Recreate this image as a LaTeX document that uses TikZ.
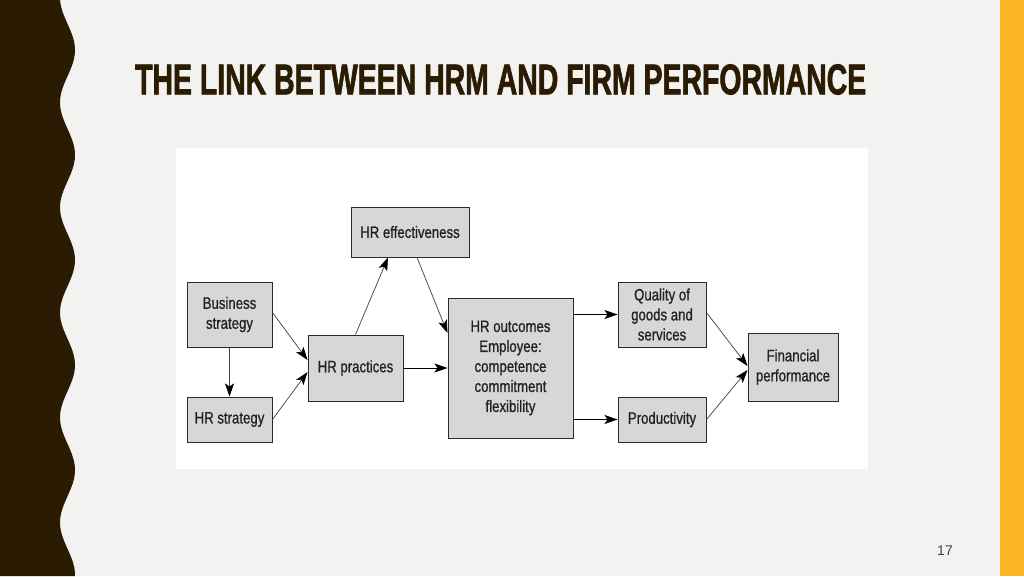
\documentclass[tikz,border=0pt]{standalone}
\usepackage{fontspec}
\usetikzlibrary{arrows.meta,calc}
\newfontfamily\titlefont[FakeBold=2]{Liberation Sans}
\newfontfamily\figfont[FakeStretch=0.8,FakeBold=0.8]{Liberation Sans}
\newfontfamily\numfont{Liberation Sans}
\definecolor{bgc}{HTML}{F2F2F0}
\definecolor{wavec}{HTML}{2B1B03}
\definecolor{orangec}{HTML}{FAB526}
\definecolor{boxfill}{HTML}{D7D7D7}
\definecolor{boxline}{HTML}{2A2A2A}
\definecolor{txtc}{HTML}{222222}
\definecolor{numc}{HTML}{2E4A5A}
\tikzset{
  hrbox/.style={draw=boxline, fill=boxfill, line width=1pt, rectangle, inner sep=0pt,
    align=center, text=txtc, font=\figfont\fontsize{16.5}{20}\selectfont},
  arr/.style={draw=black, line width=1pt, -{Stealth[length=13pt,width=9pt,inset=3pt]}},
  thinarr/.style={draw=black!75, line width=0.7pt, -{Stealth[length=13pt,width=9pt,inset=3pt,fill=black,color=black]}}
}
\begin{document}
\begin{tikzpicture}[x=1pt,y=-1pt]
\useasboundingbox (0,0) rectangle (1024,576);
\fill[bgc] (0,0) rectangle (1024,576);
\fill[white] (176,148) rectangle (868,469);
\fill[wavec] (0,0) -- plot[domain=0:576,samples=200,smooth] ({67.5-7.5*cos(3.428571*(\x+2.5))},\x) -- (0,576) -- cycle;
\fill[orangec] (1000,0) rectangle (1024,576);
\node[anchor=west, inner sep=0pt, text=wavec] (title) at (135,79.5)
  {\resizebox{731pt}{30pt}{\titlefont\bfseries THE LINK BETWEEN HRM AND FIRM PERFORMANCE}};
\node[text=numc, font=\numfont\fontsize{14}{16}\selectfont, inner sep=0pt] (num) at (945,551) {17};

\node[hrbox, minimum width=118pt, minimum height=50pt] (eff) at (410,232) {HR effectiveness};
\node[hrbox, minimum width=85pt, minimum height=65pt] (bus) at (229.5,314.5) {Business\\strategy};
\node[hrbox, minimum width=85pt, minimum height=45pt] (hrs) at (229.5,419.5) {HR strategy};
\node[hrbox, minimum width=95pt, minimum height=66pt] (prac) at (355.5,368) {HR practices};
\node[hrbox, minimum width=125pt, minimum height=140pt] (out) at (510.5,368) {HR outcomes\\Employee:\\competence\\commitment\\flexibility};
\node[hrbox, minimum width=88pt, minimum height=65pt] (qual) at (662,314.5) {Quality of\\goods and\\services};
\node[hrbox, minimum width=88pt, minimum height=45pt] (prod) at (662,419.5) {Productivity};
\node[hrbox, minimum width=90pt, minimum height=68pt] (fin) at (793,367) {Financial\\performance};

\draw[thinarr] (bus.south) -- (hrs.north);
\draw[thinarr] ([yshift=2pt]bus.east) -- ([yshift=8pt]prac.west);
\draw[thinarr] (hrs.east) -- ([yshift=-4pt]prac.west);
\draw[thinarr] (prac.north) -- ([xshift=-22pt]eff.south);
\draw[thinarr] ([xshift=7pt]eff.south) -- ([yshift=35pt]out.west);
\draw[arr] (prac.east) -- (out.west);
\draw[arr] (out.east |- qual.west) -- (qual.west);
\draw[arr] (out.east |- prod.west) -- (prod.west);
\draw[thinarr] ([yshift=2pt]qual.east) -- ([yshift=1pt]fin.west);
\draw[thinarr] (prod.east) -- ([yshift=-3pt]fin.west);
\end{tikzpicture}
\end{document}
